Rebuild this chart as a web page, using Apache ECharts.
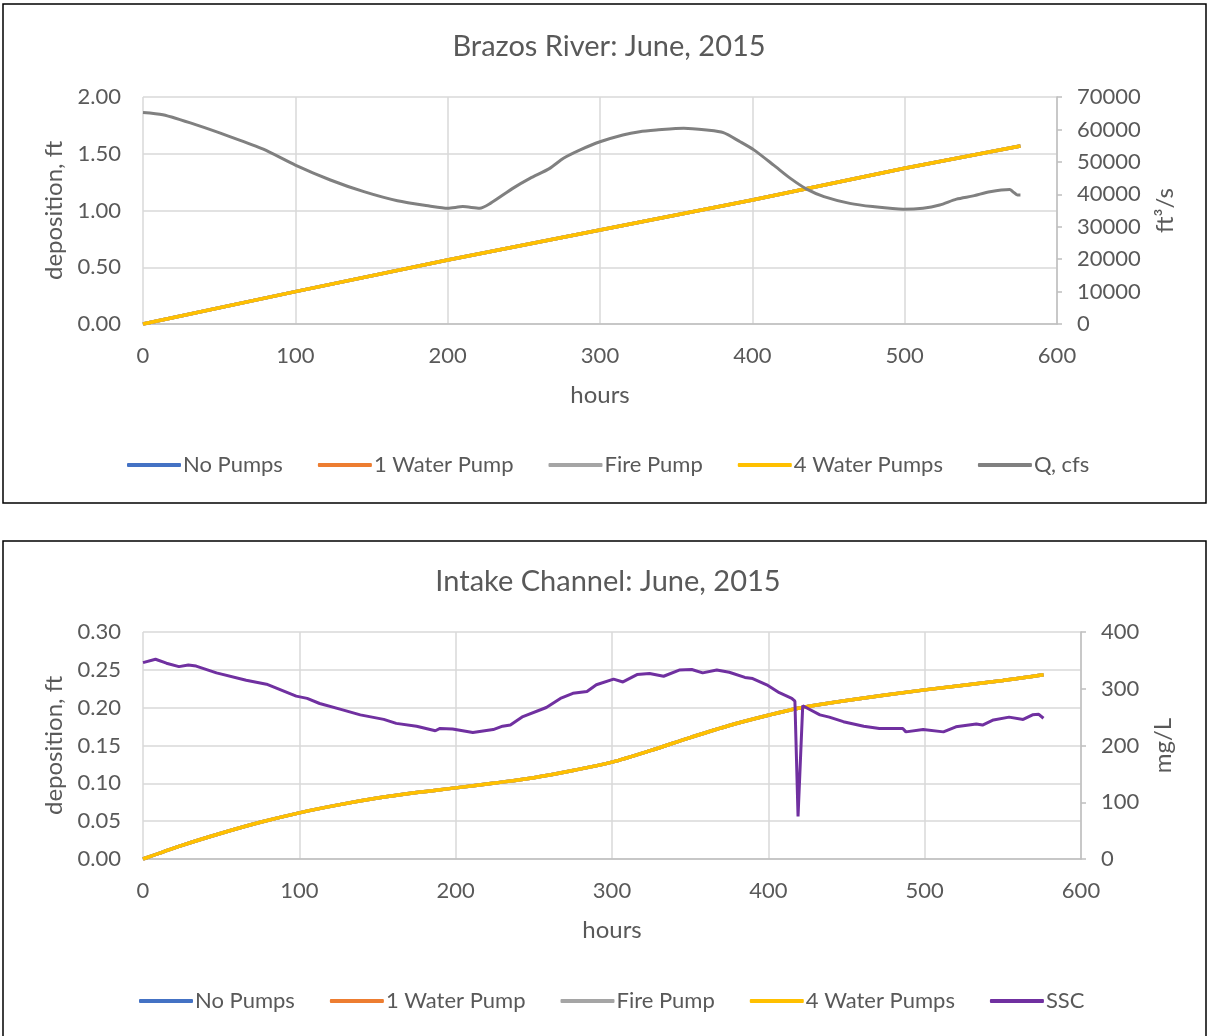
<!DOCTYPE html>
<html>
<head>
<meta charset="utf-8">
<script src="https://cdn.jsdelivr.net/npm/echarts@6/dist/echarts.min.js"></script>
<style>
html,body{margin:0;padding:0;background:#fff;}
#chart{width:1207px;height:1036px;}
</style>
</head>
<body>
<div id="chart"></div>
<script>
// ---------- Data ----------
const hourTicks = [0, 100, 200, 300, 400, 500, 600];

// Top chart: Brazos River
const depTopHours  = [0, 100, 200, 300, 400, 500, 576];
const depTopValues = [0, 0.285, 0.564, 0.828, 1.093, 1.372, 1.568];

const qHours  = [0, 13, 35, 57, 79, 100, 123, 145, 167, 188, 200, 210, 221, 228, 243, 254, 267, 276, 287, 300, 315, 326, 337, 355, 370, 381, 392, 401, 414, 425, 436, 447, 464, 479, 499, 512, 523, 534, 545, 556, 569, 571, 574, 576];
const qValues = [65200, 64500, 61400, 57800, 53900, 49000, 44400, 40800, 38000, 36400, 35700, 36200, 35700, 37200, 41900, 44900, 48000, 51100, 53700, 56200, 58300, 59300, 59800, 60400, 59800, 59000, 56200, 53700, 49000, 44900, 41500, 39300, 37200, 36200, 35400, 35700, 36700, 38500, 39500, 40800, 41500, 40800, 39800, 39800];

// Bottom chart: Intake Channel
const depBotHours  = [0, 25, 50, 75, 100, 125, 150, 175, 200, 225, 250, 275, 300, 325, 350, 375, 400, 420, 450, 500, 550, 576];
const depBotValues = [0, 0.018, 0.034, 0.0485, 0.061, 0.0715, 0.0805, 0.0878, 0.094, 0.1005, 0.1075, 0.117, 0.128, 0.1435, 0.1605, 0.1765, 0.190, 0.1995, 0.2095, 0.2235, 0.236, 0.2435];

const sscHours  = [0, 8, 15, 23, 29, 34, 47, 66, 79, 98, 105, 113, 126, 139, 154, 162, 175, 187, 190, 198, 211, 224, 230, 235, 243, 258, 267, 275, 284, 290, 301, 307, 316, 324, 333, 343, 351, 358, 367, 375, 385, 390, 399, 407, 415, 417, 419, 422, 433, 439, 448, 461, 471, 486, 488, 499, 512, 520, 533, 537, 544, 554, 563, 569, 573, 576];
const sscValues = [346, 352, 345, 339, 342, 340, 328, 315, 308, 287, 283, 274, 264, 254, 246, 239, 234, 226, 230, 229, 223, 228, 234, 236, 251, 267, 283, 292, 295, 307, 317, 312, 325, 327, 322, 333, 334, 328, 333, 329, 320, 318, 307, 293, 283, 278, 75, 270, 254, 250, 242, 234, 230, 230, 224, 228, 224, 233, 238, 236, 245, 250, 246, 254, 255, 248];

const depSeriesNames = ['No Pumps', '1 Water Pump', 'Fire Pump', '4 Water Pumps'];
const depColors = ['#4472C4', '#ED7D31', '#A5A5A5', '#FFC000'];
const qName = 'Q, cfs';
const sscName = 'SSC';

// ---------- Helpers ----------
const pair = (xs, ys) => xs.map((x, i) => [x, ys[i]]);
const FONT = 'Lato, "Noto Sans", sans-serif';
const TXT = '#595959';
const GRIDC = '#D9D9D9';
const AXC = '#BFBFBF';

function xAxisCfg(gridIndex) {
  return {
    type: 'value', gridIndex, min: 0, max: 600, interval: 100,
    name: 'hours', nameLocation: 'middle', nameGap: 59,
    nameTextStyle: {color: TXT, fontSize: 24, fontFamily: FONT},
    axisLine: {show: true, lineStyle: {color: AXC, width: 1.5}},
    axisTick: {show: false},
    axisLabel: {color: TXT, fontSize: 22, fontFamily: FONT, margin: 21},
    splitLine: {show: true, lineStyle: {color: GRIDC, width: 1.5}}
  };
}
function leftYCfg(gridIndex, max, interval, decimals) {
  return {
    type: 'value', gridIndex, min: 0, max, interval,
    name: 'deposition, ft', nameLocation: 'middle', nameGap: 72, nameRotate: 90,
    nameTextStyle: {color: TXT, fontSize: 24, fontFamily: FONT},
    axisLine: {show: false}, axisTick: {show: false},
    axisLabel: {color: TXT, fontSize: 22, fontFamily: FONT, margin: 22,
      formatter: v => v.toFixed(decimals)},
    splitLine: {show: true, lineStyle: {color: GRIDC, width: 1.5}}
  };
}
function rightYCfg(gridIndex, max, interval, name, nameGap) {
  return {
    type: 'value', gridIndex, position: 'right', min: 0, max, interval,
    name, nameLocation: 'middle', nameGap, nameRotate: 90,
    nameTextStyle: {color: TXT, fontSize: 24, fontFamily: FONT},
    axisLine: {show: true, lineStyle: {color: AXC, width: 1.5}},
    axisTick: {show: true, length: 5, lineStyle: {color: AXC, width: 1.5}},
    axisLabel: {color: TXT, fontSize: 22, fontFamily: FONT, margin: 20,
      formatter: v => String(v)},
    splitLine: {show: false}
  };
}

const series = [];
depSeriesNames.forEach((n, i) => {
  series.push({name: n, type: 'line', xAxisIndex: 0, yAxisIndex: 0,
    data: pair(depTopHours, depTopValues), showSymbol: false, symbol: 'none',
    lineStyle: {color: depColors[i], width: 3.5}, itemStyle: {color: depColors[i]}, z: 2});
});
series.push({name: qName, type: 'line', xAxisIndex: 0, yAxisIndex: 1,
  data: pair(qHours, qValues), showSymbol: false, symbol: 'none', smooth: 0.25,
  lineStyle: {color: '#808080', width: 3}, itemStyle: {color: '#808080'}, z: 3});
depSeriesNames.forEach((n, i) => {
  series.push({name: n, type: 'line', xAxisIndex: 1, yAxisIndex: 2,
    data: pair(depBotHours, depBotValues), showSymbol: false, symbol: 'none', smooth: 0.3,
    lineStyle: {color: depColors[i], width: 3.5}, itemStyle: {color: depColors[i]}, z: 2});
});
series.push({name: sscName, type: 'line', xAxisIndex: 1, yAxisIndex: 3,
  data: pair(sscHours, sscValues), showSymbol: false, symbol: 'none',
  lineStyle: {color: '#7030A0', width: 3}, itemStyle: {color: '#7030A0'}, z: 3});

const legendBase = {
  orient: 'horizontal', itemWidth: 54, itemHeight: 4, itemGap: 35, icon: 'roundRect',
  textStyle: {color: TXT, fontSize: 22, fontFamily: FONT, padding: [0, 0, 0, -3]},
  selectedMode: false
};

const option = {
  backgroundColor: '#fff',
  animation: false,
  title: [
    {text: 'Brazos River: June, 2015', left: 604, top: 27, textAlign: 'center',
      textStyle: {color: TXT, fontSize: 29, fontWeight: 'normal', fontFamily: FONT}},
    {text: 'Intake Channel: June, 2015', left: 603, top: 562, textAlign: 'center',
      textStyle: {color: TXT, fontSize: 29, fontWeight: 'normal', fontFamily: FONT}}
  ],
  grid: [
    {left: 143, top: 97, width: 914, height: 227, containLabel: false},
    {left: 143, top: 632, width: 938, height: 227, containLabel: false}
  ],
  xAxis: [xAxisCfg(0), xAxisCfg(1)],
  yAxis: [
    leftYCfg(0, 2, 0.5, 2),
    rightYCfg(0, 70000, 10000, 'ft³/s', 96),
    leftYCfg(1, 0.30, 0.05, 2),
    rightYCfg(1, 400, 100, 'mg/L', 70)
  ],
  legend: [
    Object.assign({}, legendBase, {left: 122, top: 449,
      data: depSeriesNames.concat([qName])}),
    Object.assign({}, legendBase, {left: 134, top: 985,
      data: depSeriesNames.concat([sscName])})
  ],
  graphic: [
    {type: 'rect', shape: {x: 3, y: 4, width: 1203, height: 499},
      style: {fill: 'none', stroke: '#000', lineWidth: 1.5}, silent: true},
    {type: 'rect', shape: {x: 3, y: 541, width: 1203, height: 520},
      style: {fill: 'none', stroke: '#000', lineWidth: 1.5}, silent: true}
  ],
  series
};

const chart = echarts.init(document.getElementById('chart'), null, {renderer: 'canvas'});
chart.setOption(option);
</script>
</body>
</html>
